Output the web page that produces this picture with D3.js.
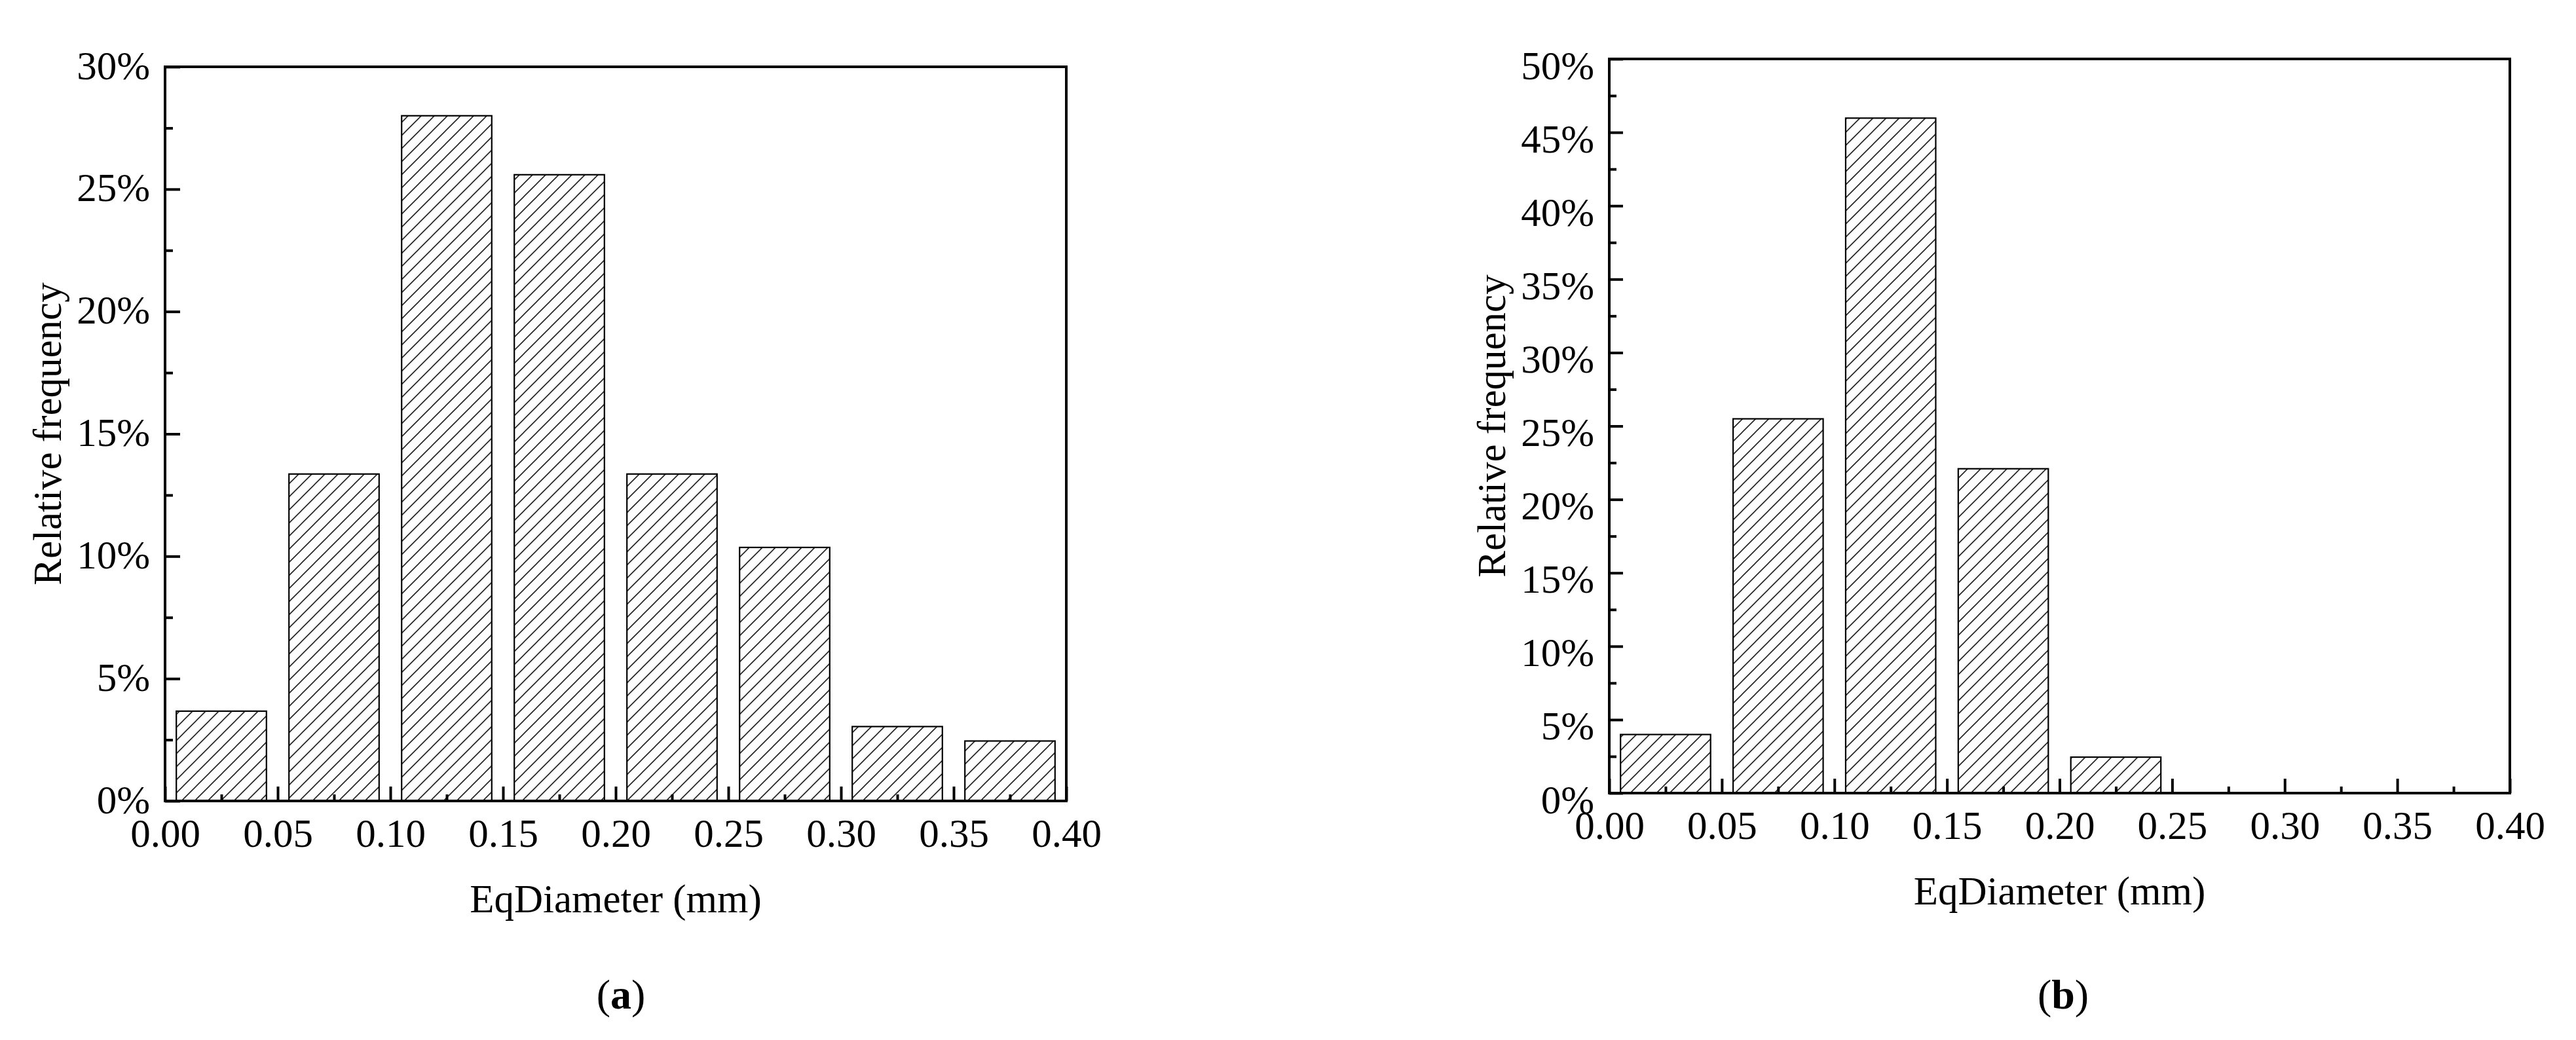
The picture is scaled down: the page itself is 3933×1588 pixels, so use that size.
<!DOCTYPE html>
<html>
<head>
<meta charset="utf-8">
<script src="https://cdn.jsdelivr.net/npm/d3@7"></script>
<style>
  html, body { margin: 0; padding: 0; background: #ffffff; }
  svg { display: block; }
  text { font-family: "Liberation Serif", "Times New Roman", serif; fill: #000; }
</style>
</head>
<body>
<svg id="chart" width="3933" height="1588"></svg>
<script>
// ---- Data ----
const binStartsA = [0.00, 0.05, 0.10, 0.15, 0.20, 0.25, 0.30, 0.35];
const freqA = [3.67, 13.36, 28.0, 25.59, 13.36, 10.36, 3.04, 2.45];   // %
const binStartsB = [0.00, 0.05, 0.10, 0.15, 0.20];
const freqB = [3.99, 25.49, 45.97, 22.09, 2.45];                      // %
const xTicks = [0.00, 0.05, 0.10, 0.15, 0.20, 0.25, 0.30, 0.35, 0.40];
const yTicksA = [0, 5, 10, 15, 20, 25, 30];
const yTicksB = [0, 5, 10, 15, 20, 25, 30, 35, 40, 45, 50];
const xTitle = "EqDiameter (mm)";
const yTitle = "Relative frequency";
const panelLetters = ["a", "b"];

const svg = d3.select("#chart");
const FS = 61;

// hatch pattern
const defs = svg.append("defs");
const pat = defs.append("pattern")
  .attr("id", "hatch").attr("patternUnits", "userSpaceOnUse")
  .attr("width", 20).attr("height", 20);
pat.append("rect").attr("width", 20).attr("height", 20).attr("fill", "#fff");
pat.append("path")
  .attr("d", "M-5,5 L5,-5 M0,20 L20,0 M15,25 L25,15")
  .attr("stroke", "#222").attr("stroke-width", 1.6);

function drawPanel(cfg) {
  const { left, right, top, bottom, starts, values, yMax, yTicks, labelDy, letter, majY, minY } = cfg;
  const x = d3.scaleLinear().domain([0, 0.40]).range([left, right]);
  const y = d3.scaleLinear().domain([0, yMax]).range([bottom, top]);
  const g = svg.append("g");

  // bars
  g.selectAll("rect.bar").data(starts.map((s, i) => ({ s, v: values[i] })))
    .enter().append("rect").attr("class", "bar")
    .attr("x", d => x(d.s + 0.005))
    .attr("width", d => x(d.s + 0.045) - x(d.s + 0.005))
    .attr("y", d => y(d.v))
    .attr("height", d => y(0) - y(d.v))
    .attr("fill", "url(#hatch)")
    .attr("stroke", "#000").attr("stroke-width", 2.2);

  // minor ticks
  const xMinor = d3.range(0.025, 0.40, 0.05);
  g.append("g").attr("transform", `translate(0,${bottom})`)
    .call(d3.axisBottom(x).tickValues(xMinor).tickSize(-10).tickFormat(""))
    .call(s => s.select(".domain").remove())
    .call(s => s.selectAll("line").attr("stroke-width", 4));
  const yMinor = d3.range(2.5, yMax, 5);
  g.append("g").attr("transform", `translate(${left},0)`)
    .call(d3.axisLeft(y).tickValues(yMinor).tickSize(-minY).tickFormat(""))
    .call(s => s.select(".domain").remove())
    .call(s => s.selectAll("line").attr("stroke-width", 4));

  // major ticks + labels
  const gx = g.append("g").attr("transform", `translate(0,${bottom})`)
    .call(d3.axisBottom(x).tickValues(xTicks).tickSize(-22).tickPadding(0)
      .tickFormat(d3.format(".2f")));
  gx.select(".domain").remove();
  gx.selectAll("line").attr("stroke-width", 4);
  gx.selectAll("text").attr("y", 70).attr("dy", null)
    .style("font-size", FS + "px").style("font-family", "Liberation Serif");

  const gy = g.append("g").attr("transform", `translate(${left},0)`)
    .call(d3.axisLeft(y).tickValues(yTicks).tickSize(-majY).tickPadding(23)
      .tickFormat(d => d + "%"));
  gy.select(".domain").remove();
  gy.selectAll("line").attr("stroke-width", 4);
  gy.selectAll("text").attr("dy", labelDy + "px")
    .style("font-size", FS + "px").style("font-family", "Liberation Serif");

  // frame
  g.append("rect").attr("x", left).attr("y", top)
    .attr("width", right - left).attr("height", bottom - top)
    .attr("fill", "none").attr("stroke", "#000").attr("stroke-width", 4);

  // axis titles
  g.append("text").attr("x", (left + right) / 2).attr("y", bottom + 170)
    .attr("text-anchor", "middle").style("font-size", FS + "px").text(xTitle);
  g.append("text")
    .attr("transform", `translate(${left - 159},${(top + bottom) / 2}) rotate(-90)`)
    .attr("text-anchor", "middle").style("font-size", FS + "px").text(yTitle);

  // panel label
  const pl = g.append("text").attr("x", cfg.labelX).attr("y", 1540)
    .attr("text-anchor", "middle").style("font-size", "64px");
  pl.append("tspan").text("(");
  pl.append("tspan").style("font-weight", "bold").text(letter);
  pl.append("tspan").text(")");
}

drawPanel({ left: 252, right: 1628, top: 102, bottom: 1223, starts: binStartsA, values: freqA,
  yMax: 30, yTicks: yTicksA, labelDy: 18, letter: panelLetters[0], labelX: 948, majY: 23, minY: 12 });
drawPanel({ left: 2457, right: 3832, top: 90, bottom: 1211, starts: binStartsB, values: freqB,
  yMax: 50, yTicks: yTicksB, labelDy: 30, letter: panelLetters[1], labelX: 3150, majY: 21, minY: 11 });
</script>
</body>
</html>
